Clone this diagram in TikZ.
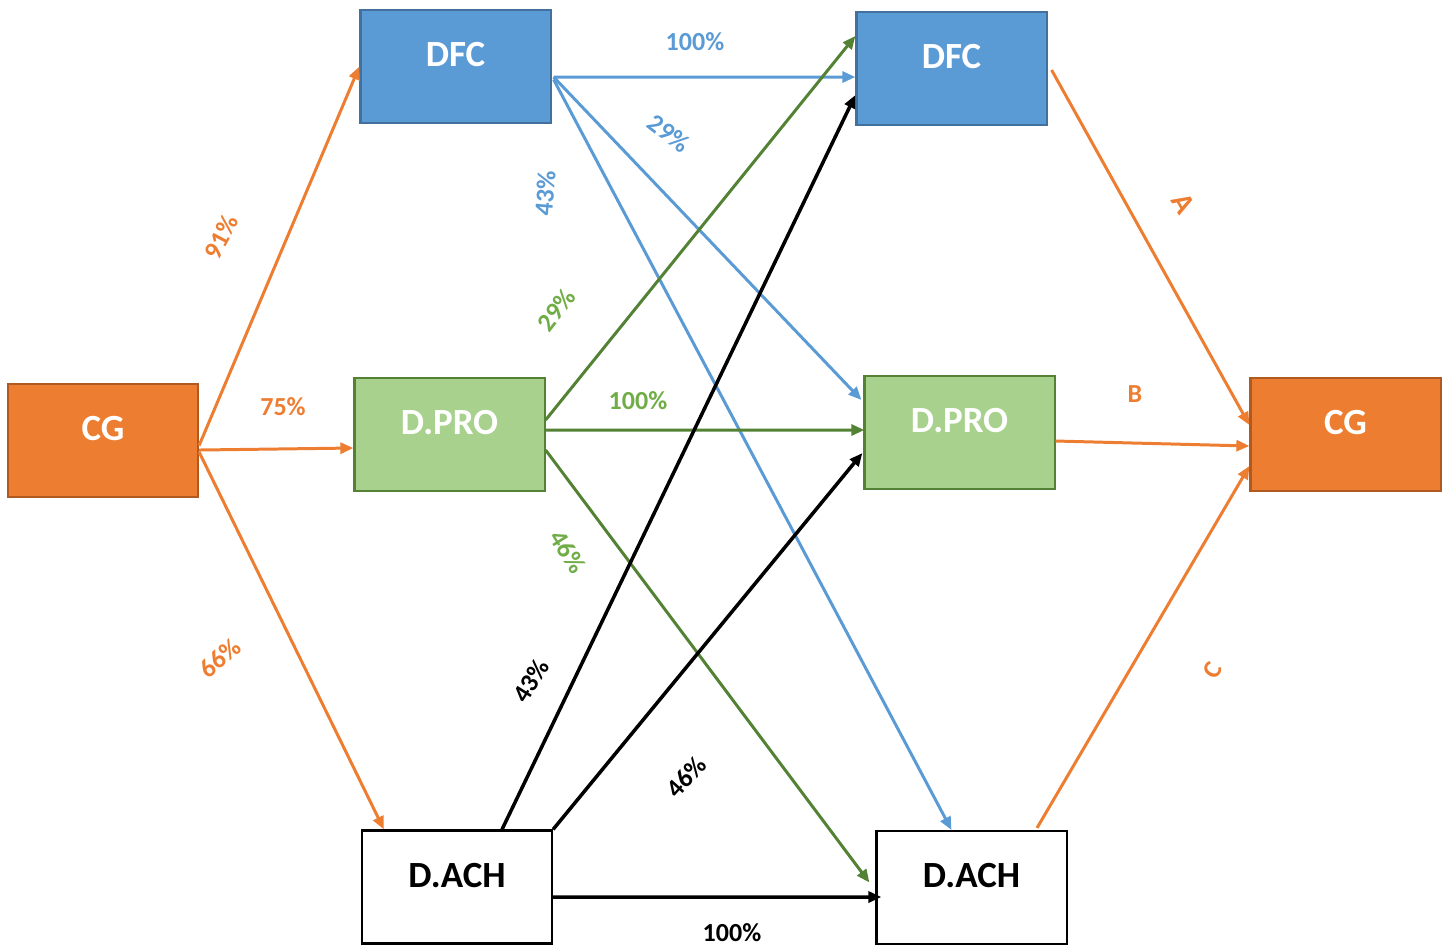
\documentclass[tikz,border=0pt]{standalone}
\usepackage{fontspec}
\setmainfont{Carlito}
\usetikzlibrary{arrows.meta}
\definecolor{cgfill}{HTML}{ED7D31}
\definecolor{cgline}{HTML}{AE5A21}
\definecolor{dfcfill}{HTML}{5B9BD5}
\definecolor{dfcline}{HTML}{41719C}
\definecolor{profill}{HTML}{A9D18E}
\definecolor{proline}{HTML}{548235}
\definecolor{prolabel}{HTML}{70AD47}
\tikzset{
  box/.style={rectangle, minimum width=1.9cm, minimum height=1.13cm, line width=0.6pt,
    font=\fontsize{10.5}{12}\selectfont\bfseries, inner sep=0pt},
  cgbox/.style={box, fill=cgfill, draw=cgline, text=white},
  dfcbox/.style={box, fill=dfcfill, draw=dfcline, text=white},
  probox/.style={box, fill=profill, draw=proline, text=white},
  achbox/.style={box, fill=white, draw=black, text=black},
  flow/.style={line width=0.85pt, -{Triangle[length=0.13cm, width=0.11cm]}},
  orflow/.style={flow, draw=cgfill},
  blflow/.style={flow, draw=dfcfill},
  grflow/.style={flow, draw=proline},
  bkflow/.style={flow, draw=black, line width=1pt},
  pct/.style={font=\fontsize{7.4}{9}\selectfont\bfseries, inner sep=0pt},
}
% box captions sit with their baseline on the box centre line
\newcommand{\boxtext}[1]{\smash{#1}}
\begin{document}
\begin{tikzpicture}[x=0.01cm, y=-0.01cm]
\useasboundingbox (0,0) rectangle (1447,944);

% boxes
\node[cgbox]  (cgL)   at (103,440.5)  {\boxtext{CG}};
\node[dfcbox] (dfcL)  at (455.5,66.5) {\boxtext{DFC}};
\node[probox] (proL)  at (449.5,434.5){\boxtext{D.PRO}};
\node[achbox] (achL)  at (457,887)    {\boxtext{D.ACH}};
\node[dfcbox] (dfcR)  at (951.5,68.5) {\boxtext{DFC}};
\node[probox] (proR)  at (959.5,432.5){\boxtext{D.PRO}};
\node[achbox] (achR)  at (971.5,887.5){\boxtext{D.ACH}};
\node[cgbox]  (cgR)   at (1345.5,434.5){\boxtext{CG}};

% flows out of the left CG
\draw[orflow] ([yshift=-0.05cm]cgL.east) -- (dfcL.west);
\draw[orflow] ([yshift=-0.095cm]cgL.east) -- ([yshift=-0.135cm]proL.west);
\draw[orflow] ([yshift=-0.115cm]cgL.east) -- ([xshift=0.23cm]achL.north west);

% flows out of the left DFC
\draw[blflow] ([xshift=0.02cm,yshift=-0.105cm]dfcL.east) -- ([yshift=-0.085cm]dfcR.west);
\draw[blflow] ([xshift=0.02cm,yshift=-0.105cm]dfcL.east) -- ([xshift=-0.02cm,yshift=-0.25cm]proR.north west);
\draw[blflow] ([xshift=0.02cm,yshift=-0.13cm]dfcL.east) -- ([xshift=-0.2cm]achR.north);

% flows out of the left D.PRO
\draw[grflow] ([yshift=0.145cm]proL.east) -- ([yshift=0.325cm]dfcR.west);
\draw[grflow] ([yshift=0.045cm]proL.east) -- ([xshift=0.01cm,yshift=0.025cm]proR.west);
\draw[grflow] ([yshift=-0.155cm]proL.east) -- ([xshift=-0.06cm,yshift=0.05cm]achR.west);

% flows out of the left D.ACH
\draw[bkflow] ([xshift=0.45cm]achL.north) -- ([yshift=-0.265cm]dfcR.west);
\draw[bkflow] (achL.north east) -- ([xshift=-0.01cm,yshift=-0.205cm]proR.west);
\draw[bkflow] ([yshift=-0.1cm]achL.east) -- ([xshift=0.06cm,yshift=-0.095cm]achR.west);

% flows into the right CG
\draw[orflow] ([xshift=0.04cm,yshift=-0.015cm]dfcR.east) -- ([yshift=0.095cm]cgR.west);
\draw[orflow] ([yshift=-0.085cm]proR.east) -- ([yshift=-0.115cm]cgR.west);
\draw[orflow] ([xshift=0.655cm,yshift=0.02cm]achR.north) -- ([yshift=-0.315cm]cgR.west);

% percentages
\node[pct, text=cgfill, rotate=62]   (p91)  at (221,237) {91\%};
\node[pct, text=cgfill]              (p75)  at (283,407) {75\%};
\node[pct, text=cgfill, rotate=40]   (p66)  at (220,658) {66\%};
\node[pct, text=dfcfill]             (b100) at (695,42)  {100\%};
\node[pct, text=dfcfill, rotate=-38] (b29)  at (669,133) {29\%};
\node[pct, text=dfcfill, rotate=85]  (b43)  at (545,193) {43\%};
\node[pct, text=prolabel, rotate=52] (g29)  at (556,310) {29\%};
\node[pct, text=prolabel]            (g100) at (638,401) {100\%};
\node[pct, text=prolabel, rotate=-58](g46)  at (568,552) {46\%};
\node[pct, text=black, rotate=58]    (k43)  at (531,681) {43\%};
\node[pct, text=black, rotate=48]    (k46)  at (686,777) {46\%};
\node[pct, text=black]               (k100) at (732,933) {100\%};
\node[pct, text=cgfill, rotate=-60, font=\fontsize{8.5}{10}\selectfont\bfseries] (lA) at (1183,203) {A};
\node[pct, text=cgfill]              (lB)   at (1135,394) {B};
\node[pct, text=cgfill, rotate=60]   (lC)   at (1213,670) {C};
\end{tikzpicture}
\end{document}
